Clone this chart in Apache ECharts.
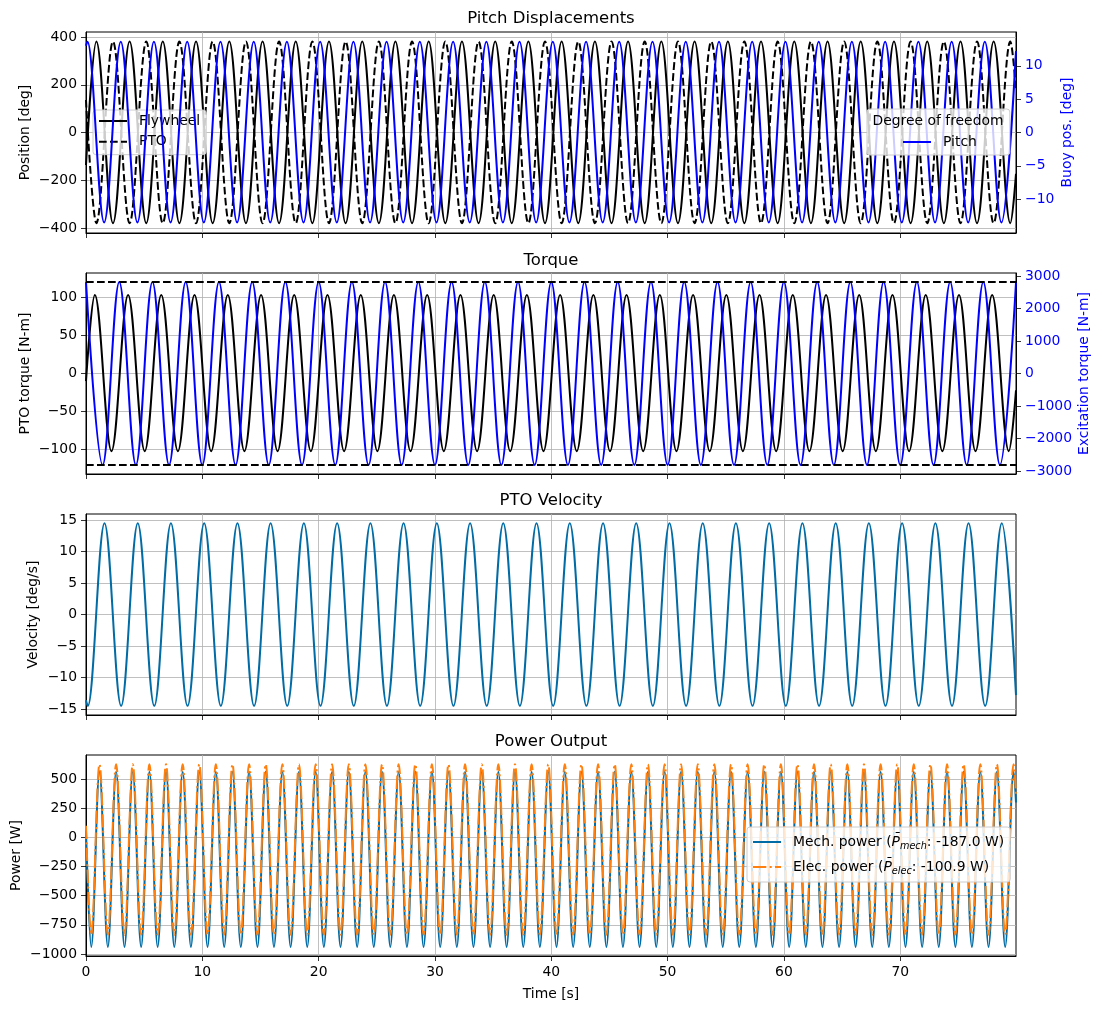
<!DOCTYPE html>
<html>
<head>
<meta charset="utf-8">
<title>Pitch WEC time series</title>
<script src="https://cdn.jsdelivr.net/npm/echarts@6/dist/echarts.min.js"></script>
<style>
  html, body { margin: 0; padding: 0; background: #fff; }
  #chart { width: 1102px; height: 1009px; }
</style>
</head>
<body>
<div id="chart"></div>
<script>
// turning points (peaks / troughs), time in s
const tEnd = 79.95;
const xTicks = [0, 10, 20, 30, 40, 50, 60, 70];

// --- Pitch displacements ---
const flyT = [0,
  0.89, 2.32, 3.75, 5.18, 6.60, 8.03, 9.46,
  10.89, 12.32, 13.75, 15.18, 16.60, 18.03, 19.46,
  20.89, 22.32, 23.75, 25.18, 26.60, 28.03, 29.46,
  30.89, 32.32, 33.75, 35.18, 36.60, 38.03, 39.46,
  40.89, 42.32, 43.75, 45.18, 46.60, 48.03, 49.46,
  50.89, 52.32, 53.75, 55.18, 56.60, 58.03, 59.46,
  60.89, 62.32, 63.75, 65.18, 66.60, 68.03, 69.46,
  70.89, 72.32, 73.75, 75.18, 76.60, 78.03, 79.46,
  79.95];
const flywheelPos = [-136,
  381, -380, 381, -380, 381, -380, 381, -380, 381, -380, 381, -380, 381, -380,
  381, -380, 381, -380, 381, -380, 381, -380, 381, -380, 381, -380, 381, -380,
  381, -380, 381, -380, 381, -380, 381, -380, 381, -380, 381, -380, 381, -380,
  381, -380, 381, -380, 381, -380, 381, -380, 381, -380, 381, -380, 381, -380,
  -173];
const ptoPos = [136,
  -380, 381, -380, 381, -380, 381, -380, 381, -380, 381, -380, 381, -380, 381,
  -380, 381, -380, 381, -380, 381, -380, 381, -380, 381, -380, 381, -380, 381,
  -380, 381, -380, 381, -380, 381, -380, 381, -380, 381, -380, 381, -380, 381,
  -380, 381, -380, 381, -380, 381, -380, 381, -380, 381, -380, 381, -380, 381,
  173];
const pitchT = [0,
  0.13, 1.56, 2.99, 4.42, 5.84, 7.27, 8.70,
  10.13, 11.56, 12.99, 14.42, 15.84, 17.27, 18.70,
  20.13, 21.56, 22.99, 24.42, 25.84, 27.27, 28.70,
  30.13, 31.56, 32.99, 34.42, 35.84, 37.27, 38.70,
  40.13, 41.56, 42.99, 44.42, 45.84, 47.27, 48.70,
  50.13, 51.56, 52.99, 54.42, 55.84, 57.27, 58.70,
  60.13, 61.56, 62.99, 64.42, 65.84, 67.27, 68.70,
  70.13, 71.56, 72.99, 74.42, 75.84, 77.27, 78.70,
  79.95];
const pitchPos = [13.0,
  13.6, -13.5, 13.6, -13.5, 13.6, -13.5, 13.6, -13.5, 13.6, -13.5, 13.6, -13.5, 13.6, -13.5,
  13.6, -13.5, 13.6, -13.5, 13.6, -13.5, 13.6, -13.5, 13.6, -13.5, 13.6, -13.5, 13.6, -13.5,
  13.6, -13.5, 13.6, -13.5, 13.6, -13.5, 13.6, -13.5, 13.6, -13.5, 13.6, -13.5, 13.6, -13.5,
  13.6, -13.5, 13.6, -13.5, 13.6, -13.5, 13.6, -13.5, 13.6, -13.5, 13.6, -13.5, 13.6, -13.5,
  12.2];

// --- Torque ---
const torqueT = [0,
  0.76, 2.19, 3.62, 5.05, 6.47, 7.90, 9.33,
  10.76, 12.19, 13.62, 15.05, 16.47, 17.90, 19.33,
  20.76, 22.19, 23.62, 25.05, 26.47, 27.90, 29.33,
  30.76, 32.19, 33.62, 35.05, 36.47, 37.90, 39.33,
  40.76, 42.19, 43.62, 45.05, 46.47, 47.90, 49.33,
  50.76, 52.19, 53.62, 55.05, 56.47, 57.90, 59.33,
  60.76, 62.19, 63.62, 65.05, 66.47, 67.90, 69.33,
  70.76, 72.19, 73.62, 75.05, 76.47, 77.90, 79.33,
  79.95];
const ptoTorque = [-10,
  103, -102, 103, -102, 103, -102, 103, -102, 103, -102, 103, -102, 103, -102,
  103, -102, 103, -102, 103, -102, 103, -102, 103, -102, 103, -102, 103, -102,
  103, -102, 103, -102, 103, -102, 103, -102, 103, -102, 103, -102, 103, -102,
  103, -102, 103, -102, 103, -102, 103, -102, 103, -102, 103, -102, 103, -102,
  -22];
const excT = [
  0, 1.43, 2.86, 4.29, 5.71, 7.14, 8.57,
  10.00, 11.43, 12.86, 14.29, 15.71, 17.14, 18.57,
  20.00, 21.43, 22.86, 24.29, 25.71, 27.14, 28.57,
  30.00, 31.43, 32.86, 34.29, 35.71, 37.14, 38.57,
  40.00, 41.43, 42.86, 44.29, 45.71, 47.14, 48.57,
  50.00, 51.43, 52.86, 54.29, 55.71, 57.14, 58.57,
  60.00, 61.43, 62.86, 64.29, 65.71, 67.14, 68.57,
  70.00, 71.43, 72.86, 74.29, 75.71, 77.14, 78.57,
  79.95];
const excTorque = [
  2820, -2810, 2820, -2810, 2820, -2810, 2820, -2810, 2820, -2810, 2820, -2810, 2820, -2810,
  2820, -2810, 2820, -2810, 2820, -2810, 2820, -2810, 2820, -2810, 2820, -2810, 2820, -2810,
  2820, -2810, 2820, -2810, 2820, -2810, 2820, -2810, 2820, -2810, 2820, -2810, 2820, -2810,
  2820, -2810, 2820, -2810, 2820, -2810, 2820, -2810, 2820, -2810, 2820, -2810, 2820, -2810,
  2800];
const torqueLimits = [120, -120];

// --- PTO velocity ---
const velT = [0,
  0.16, 1.59, 3.02, 4.45, 5.87, 7.30, 8.73,
  10.16, 11.59, 13.02, 14.45, 15.87, 17.30, 18.73,
  20.16, 21.59, 23.02, 24.45, 25.87, 27.30, 28.73,
  30.16, 31.59, 33.02, 34.45, 35.87, 37.30, 38.73,
  40.16, 41.59, 43.02, 44.45, 45.87, 47.30, 48.73,
  50.16, 51.59, 53.02, 54.45, 55.87, 57.30, 58.73,
  60.16, 61.59, 63.02, 64.45, 65.87, 67.30, 68.73,
  70.16, 71.59, 73.02, 74.45, 75.87, 77.30, 78.73,
  79.95];
const ptoVel = [-13.6,
  -14.5, 14.5, -14.5, 14.5, -14.5, 14.5, -14.5, 14.5, -14.5, 14.5, -14.5, 14.5, -14.5, 14.5,
  -14.5, 14.5, -14.5, 14.5, -14.5, 14.5, -14.5, 14.5, -14.5, 14.5, -14.5, 14.5, -14.5, 14.5,
  -14.5, 14.5, -14.5, 14.5, -14.5, 14.5, -14.5, 14.5, -14.5, 14.5, -14.5, 14.5, -14.5, 14.5,
  -14.5, 14.5, -14.5, 14.5, -14.5, 14.5, -14.5, 14.5, -14.5, 14.5, -14.5, 14.5, -14.5, 14.5,
  -12.8];

// --- Power ---
const powT = [0,
  0.45, 1.16, 1.88, 2.59, 3.31, 4.02, 4.74, 5.45, 6.16, 6.88, 7.59, 8.31, 9.02, 9.74,
  10.45, 11.16, 11.88, 12.59, 13.31, 14.02, 14.74, 15.45, 16.16, 16.88, 17.59, 18.31, 19.02, 19.74,
  20.45, 21.16, 21.88, 22.59, 23.31, 24.02, 24.74, 25.45, 26.16, 26.88, 27.59, 28.31, 29.02, 29.74,
  30.45, 31.16, 31.88, 32.59, 33.31, 34.02, 34.74, 35.45, 36.16, 36.88, 37.59, 38.31, 39.02, 39.74,
  40.45, 41.16, 41.88, 42.59, 43.31, 44.02, 44.74, 45.45, 46.16, 46.88, 47.59, 48.31, 49.02, 49.74,
  50.45, 51.16, 51.88, 52.59, 53.31, 54.02, 54.74, 55.45, 56.16, 56.88, 57.59, 58.31, 59.02, 59.74,
  60.45, 61.16, 61.88, 62.59, 63.31, 64.02, 64.74, 65.45, 66.16, 66.88, 67.59, 68.31, 69.02, 69.74,
  70.45, 71.16, 71.88, 72.59, 73.31, 74.02, 74.74, 75.45, 76.16, 76.88, 77.59, 78.31, 79.02, 79.74,
  79.95];
const mechPower = [60,
  -940, 565, -940, 565, -940, 565, -940, 565, -940, 565, -940, 565, -940, 565,
  -940, 565, -940, 565, -940, 565, -940, 565, -940, 565, -940, 565, -940, 565,
  -940, 565, -940, 565, -940, 565, -940, 565, -940, 565, -940, 565, -940, 565,
  -940, 565, -940, 565, -940, 565, -940, 565, -940, 565, -940, 565, -940, 565,
  -940, 565, -940, 565, -940, 565, -940, 565, -940, 565, -940, 565, -940, 565,
  -940, 565, -940, 565, -940, 565, -940, 565, -940, 565, -940, 565, -940, 565,
  -940, 565, -940, 565, -940, 565, -940, 565, -940, 565, -940, 565, -940, 565,
  -940, 565, -940, 565, -940, 565, -940, 565, -940, 565, -940, 565, -940, 565,
  300];
const elecPower = [100,
  -835, 628, -835, 628, -835, 628, -835, 628, -835, 628, -835, 628, -835, 628,
  -835, 628, -835, 628, -835, 628, -835, 628, -835, 628, -835, 628, -835, 628,
  -835, 628, -835, 628, -835, 628, -835, 628, -835, 628, -835, 628, -835, 628,
  -835, 628, -835, 628, -835, 628, -835, 628, -835, 628, -835, 628, -835, 628,
  -835, 628, -835, 628, -835, 628, -835, 628, -835, 628, -835, 628, -835, 628,
  -835, 628, -835, 628, -835, 628, -835, 628, -835, 628, -835, 628, -835, 628,
  -835, 628, -835, 628, -835, 628, -835, 628, -835, 628, -835, 628, -835, 628,
  -835, 628, -835, 628, -835, 628, -835, 628, -835, 628, -835, 628, -835, 628,
  360];
const meanMech = -187.0;
const meanElec = -100.9;

// tick values of the y axes
const posTicks = [-400, -200, 0, 200, 400];
const buoyTicks = [-10, -5, 0, 5, 10];
const torqueTicks = [-100, -50, 0, 50, 100];
const excTicks = [-3000, -2000, -1000, 0, 1000, 2000, 3000];
const velTicks = [-15, -10, -5, 0, 5, 10, 15];
const powTicks = [-1000, -750, -500, -250, 0, 250, 500];

const FONT = 'DejaVu Sans';
const FS = 13.9;
const BLUE = '#0000ff';
const MECH = '#006ba4';
const ELEC = '#ff800e';
const LW = 2;
const DASH = [7.7, 3.3];
const DASHDOT = [13.3, 3.3, 2.1, 3.3];
const SMOOTH = 0.3634; // gives a cosine-like arc between turning points

const gridTops = [32, 273, 514, 755];
const GRID_H = 201;

const fmt = v => (v < 0 ? '\u2212' + Math.abs(v) : String(v));
const pairs = (ts, vs) => ts.map((t, i) => [t, vs[i]]);

const chart = echarts.init(document.getElementById('chart'));

const makeX = i => ({
  type: 'value', gridIndex: i, min: 0, max: tEnd,
  name: i === 3 ? 'Time [s]' : '',
  nameLocation: 'middle', nameGap: 31, nameMoveOverlap: false,
  nameTextStyle: { color: '#000', fontSize: FS, fontFamily: FONT },
  axisLine: { onZero: false, lineStyle: { color: '#000', width: 1 } },
  axisTick: { length: 5, customValues: xTicks, lineStyle: { color: '#000', width: 0.8 } },
  axisLabel: { show: i === 3, customValues: xTicks, margin: 9, color: '#000', fontSize: FS, fontFamily: FONT },
  splitLine: { show: true, lineStyle: { color: '#b0b0b0', width: 0.8 } }
});

const makeY = (grid, pos, min, max, ticks, name, gap, color, gridLines) => ({
  type: 'value', gridIndex: grid, position: pos, min: min, max: max,
  name: name, nameLocation: 'middle', nameGap: gap, nameRotate: 90, nameMoveOverlap: false,
  nameTextStyle: { color: color, fontSize: FS, fontFamily: FONT },
  axisLine: { show: true, onZero: false, lineStyle: { color: '#000', width: 1 } },
  axisTick: { show: true, length: 5, customValues: ticks, lineStyle: { color: '#000', width: 0.8 } },
  axisLabel: { customValues: ticks, margin: 9, color: color, fontSize: FS, fontFamily: FONT, formatter: fmt },
  splitLine: { show: gridLines, lineStyle: { color: '#b0b0b0', width: 0.8 } }
});

const line = (name, xi, yi, ts, vs, color, dash, z) => ({
  name: name, type: 'line', xAxisIndex: xi, yAxisIndex: yi,
  data: pairs(ts, vs), showSymbol: false, symbol: 'none',
  smooth: SMOOTH, smoothMonotone: 'x', z: z,
  lineStyle: { color: color, width: LW, type: dash || 'solid' },
  itemStyle: { color: color },
  emphasis: { disabled: true }
});

const legendBase = {
  orient: 'vertical', selectedMode: false,
  itemWidth: 28, itemHeight: 14,
  backgroundColor: 'rgba(255,255,255,0.8)', borderColor: '#cccccc', borderWidth: 1, borderRadius: 3,
  itemStyle: { opacity: 0 }, lineStyle: { width: LW },
  textStyle: { color: '#000', fontSize: FS, fontFamily: FONT, lineHeight: 14, padding: [0, 0, 0, 7] }
};

const titleAt = (text, top) => ({
  text: text, left: 'center', top: top, padding: 0,
  textStyle: { color: '#000', fontSize: 16.5, fontWeight: 'normal', fontFamily: FONT, lineHeight: 20 }
});

const option = {
  animation: false,
  textStyle: { fontFamily: FONT },
  title: [
    titleAt('Pitch Displacements', 9),
    titleAt('Torque', 250.5),
    titleAt('PTO Velocity', 491),
    titleAt('Power Output', 732)
  ],
  grid: gridTops.map(t => ({
    left: 86, right: 86, top: t, height: GRID_H,
    outerBoundsMode: 'none', containLabel: false,
    show: true, borderColor: '#000', borderWidth: 1, backgroundColor: '#fff'
  })),
  xAxis: [0, 1, 2, 3].map(makeX),
  yAxis: [
    makeY(0, 'left', -421, 421, posTicks, 'Position [deg]', 54, '#000', true),
    makeY(0, 'right', -15.07, 15.07, buoyTicks, 'Buoy pos. [deg]', 44, BLUE, false),
    makeY(1, 'left', -132, 132, torqueTicks, 'PTO torque [N-m]', 54, '#000', true),
    makeY(1, 'right', -3090, 3100, excTicks, 'Excitation torque [N-m]', 61, BLUE, false),
    makeY(2, 'left', -15.95, 15.95, velTicks, 'Velocity [deg/s]', 46, '#000', true),
    makeY(3, 'left', -1018, 708, powTicks, 'Power [W]', 63, '#000', true)
  ],
  legend: [
    Object.assign({}, legendBase, {
      data: ['Flywheel', 'PTO'], left: 93, top: 110, z: 3,
      padding: [4, 6, 6, 5], itemGap: 6.7
    }),
    Object.assign({}, legendBase, {
      data: ['Pitch'], left: 867, top: 109, z: 5,
      padding: [26, 33, 6, 35], itemGap: 5
    }),
    Object.assign({}, legendBase, {
      data: ['Mech. power', 'Elec. power'], left: 747, top: 827, z: 5,
      padding: [6, 6, 6, 5], itemGap: 7,
      formatter: name => name === 'Mech. power'
        ? '{n|Mech. power (}{p|P\u0304}{s|mech}{n|: ' + meanMech.toFixed(1) + ' W)}'
        : '{n|Elec. power (}{p|P\u0304}{s|elec}{n|: ' + meanElec.toFixed(1) + ' W)}',
      textStyle: {
        color: '#000', fontSize: FS, fontFamily: FONT, padding: [0, 0, 0, 7],
        rich: {
          n: { fontSize: FS, fontFamily: FONT, color: '#000', lineHeight: 20 },
          p: { fontSize: FS, fontFamily: FONT, color: '#000', fontStyle: 'italic', lineHeight: 20 },
          s: { fontSize: 9.7, fontFamily: FONT, color: '#000', fontStyle: 'italic', lineHeight: 12, padding: [8, 0, 0, 0] }
        }
      }
    })
  ],
  graphic: [{
    type: 'text', x: 938, y: 121, z: 10,
    style: { text: 'Degree of freedom', fill: '#000', font: FS + 'px "DejaVu Sans"', align: 'center', verticalAlign: 'middle' }
  }],
  series: [
    line('Flywheel', 0, 0, flyT, flywheelPos, '#000', null, 2),
    line('PTO', 0, 0, flyT, ptoPos, '#000', DASH, 2),
    line('Pitch', 0, 1, pitchT, pitchPos, BLUE, null, 4),
    Object.assign(line('PTO torque', 1, 2, torqueT, ptoTorque, '#000', null, 2), {
      markLine: {
        silent: true, symbol: 'none', animation: false,
        label: { show: false },
        lineStyle: { color: '#000', width: LW, type: DASH },
        data: torqueLimits.map(v => ({ yAxis: v }))
      }
    }),
    line('Excitation torque', 1, 3, excT, excTorque, BLUE, null, 4),
    line('PTO velocity', 2, 4, velT, ptoVel, MECH, null, 2),
    line('Mech. power', 3, 5, powT, mechPower, MECH, null, 2),
    line('Elec. power', 3, 5, powT, elecPower, ELEC, DASHDOT, 3)
  ]
};

chart.setOption(option);
</script>
</body>
</html>
